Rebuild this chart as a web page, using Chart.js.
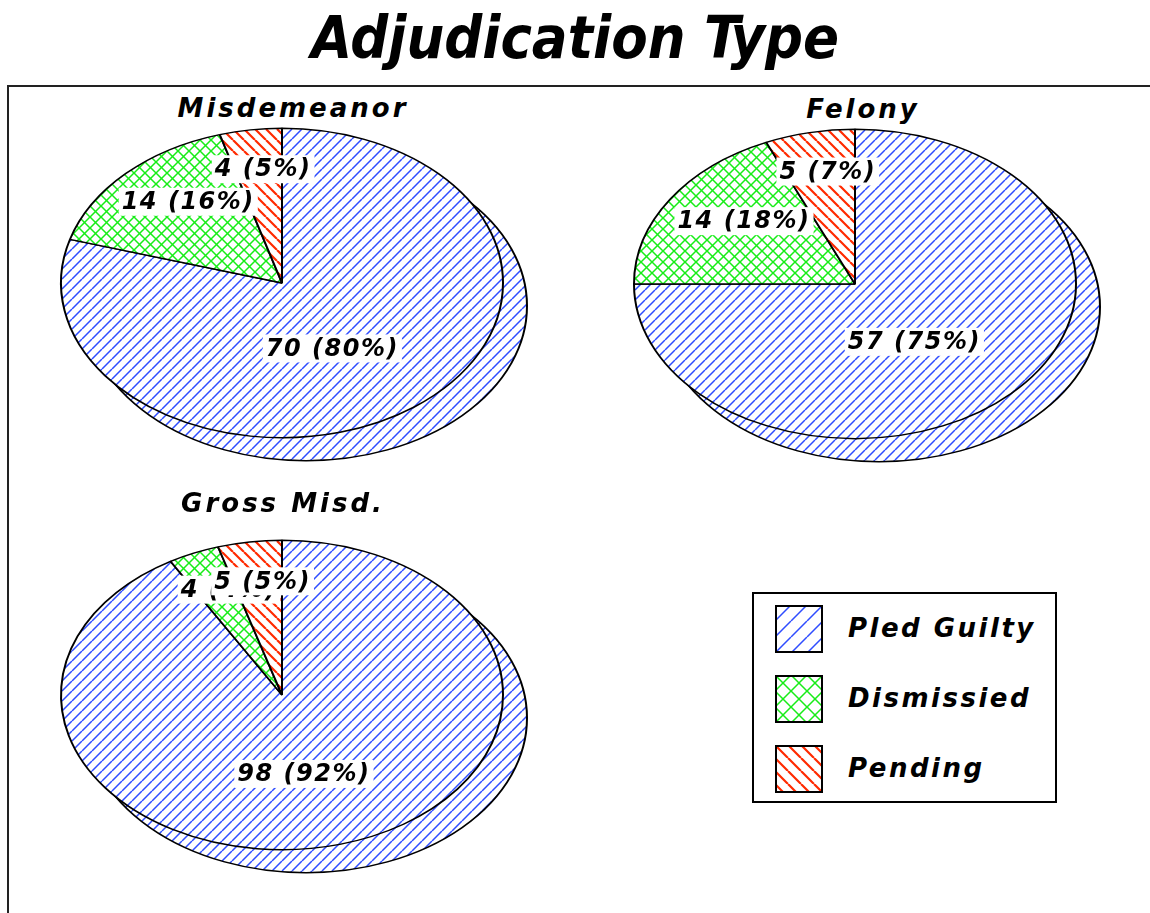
<!DOCTYPE html>
<html>
<head>
<meta charset="utf-8">
<title>Adjudication Type</title>
<script src="https://cdn.jsdelivr.net/npm/chart.js@4.4.0/dist/chart.umd.min.js"></script>
<style>
  body { margin: 0; background: #fff; width: 1150px; height: 913px; overflow: hidden; position: relative; }
  #title {
    position: absolute; left: 0; top: 8px; width: 1150px; text-align: center;
    font: italic bold 59px/59px "DejaVu Sans Condensed", "DejaVu Sans", sans-serif;
    font-stretch: condensed; color: #000;
  }
  #frame {
    position: absolute; left: 7px; top: 85px; width: 1160px; height: 900px;
    border-top: 2px solid #222; border-left: 2px solid #222;
  }
  .sub {
    position: absolute; white-space: nowrap; transform: translateX(-50%);
    font: italic bold 26px/26px "DejaVu Sans", sans-serif; letter-spacing: 3px;
  }
  canvas.pie { position: absolute; }
  #legend {
    position: absolute; left: 752px; top: 592px; width: 301px; height: 207px;
    border: 2px solid #000; background: #fff;
  }
  .item { position: absolute; left: 21px; height: 48px; }
  .item canvas { position: absolute; left: 0; top: 0; }
  .item span {
    position: absolute; left: 73px; top: 10px; white-space: nowrap;
    font: italic bold 26px/26px "DejaVu Sans", sans-serif; letter-spacing: 2.5px;
  }
</style>
</head>
<body>
<div id="title">Adjudication Type</div>
<div id="frame"></div>
<div id="legend"></div>
<script>
const categories = ["Pled Guilty", "Dismissied", "Pending"];
const pieTitles = ["Misdemeanor", "Felony", "Gross Misd."];
const misdemeanor = [70, 14, 4];
const felony = [57, 14, 5];
const grossMisd = [98, 4, 5];

const K = 0.7;      // vertical squash of the tilted pies
const R = 221;
const SHADOW = [24, 23];

function makeTile(kind, p) {
  const c = document.createElement("canvas");
  c.width = p; c.height = p;
  const g = c.getContext("2d");
  g.fillStyle = "#fff";
  g.fillRect(0, 0, p, p);
  const slash = (col, w) => {
    g.strokeStyle = col; g.lineWidth = w; g.beginPath();
    for (let o = -p; o <= p; o += p) { g.moveTo(o, p); g.lineTo(o + p, 0); }
    g.stroke();
  };
  const back = (col, w) => {
    g.strokeStyle = col; g.lineWidth = w; g.beginPath();
    for (let o = -p; o <= p; o += p) { g.moveTo(o, 0); g.lineTo(o + p, p); }
    g.stroke();
  };
  if (kind === "blue") slash("#2f4dff", 1.5);
  if (kind === "green") { slash("#18ec18", 1.5); back("#18ec18", 1.5); }
  if (kind === "red") back("#ff2a00", 2.2);
  return c;
}

function pattern(ctx, kind, p, k) {
  const pat = ctx.createPattern(makeTile(kind, p), "repeat");
  if (k) pat.setTransform(new DOMMatrix().scale(1, 1 / k));
  return pat;
}

const squash = {
  id: "squash",
  beforeDraw(chart) {
    const ctx = chart.ctx;
    const cy = (chart.chartArea.top + chart.chartArea.bottom) / 2;
    ctx.save();
    ctx.translate(0, cy);
    ctx.scale(1, K);
    ctx.translate(0, -cy);
  },
  beforeDatasetsDraw(chart) {
    const ctx = chart.ctx;
    const a = chart.getDatasetMeta(0).data[0];
    ctx.save();
    ctx.beginPath();
    ctx.arc(a.x + SHADOW[0], a.y + SHADOW[1] / K, a.outerRadius, 0, Math.PI * 2);
    ctx.fillStyle = chart.data.datasets[0].backgroundColor[0];
    ctx.fill();
    ctx.lineWidth = 2;
    ctx.strokeStyle = "#000";
    ctx.stroke();
    ctx.restore();
  },
  afterDraw(chart) {
    const ctx = chart.ctx;
    ctx.restore();
    const values = chart.data.datasets[0].data;
    const total = values.reduce((s, v) => s + v, 0);
    const arcs = chart.getDatasetMeta(0).data;
    ctx.save();
    ctx.font = 'italic bold 24px "DejaVu Sans"';
    ctx.letterSpacing = "1.5px";
    ctx.textAlign = "center";
    ctx.textBaseline = "middle";
    arcs.forEach((arc, i) => {
      const v = values[i];
      const mid = (arc.startAngle + arc.endAngle) / 2;
      const big = v / total > 0.5;
      const fx = big ? 0.38 : 0.6;
      const fy = big ? 0.37 : 0.52;
      const x = arc.x + fx * R * Math.cos(mid);
      const y = arc.y + fy * R * Math.sin(mid);
      const txt = v + " (" + Math.round(v / total * 100) + "%)";
      const w = ctx.measureText(txt).width;
      ctx.fillStyle = "#fff";
      ctx.fillRect(x - w / 2 - 3, y - 14, w + 6, 28);
      ctx.fillStyle = "#000";
      ctx.fillText(txt, x, y + 1);
    });
    ctx.restore();
  }
};

const pies = [
  { title: pieTitles[0], data: misdemeanor, cx: 282, cy: 283, tx: 293, ty: 95 },
  { title: pieTitles[1], data: felony, cx: 855, cy: 284, tx: 863, ty: 96 },
  { title: pieTitles[2], data: grossMisd, cx: 282, cy: 695, tx: 283, ty: 490 }
];

const CW = 560, CH = 440;
pies.forEach((p) => {
  const t = document.createElement("div");
  t.className = "sub";
  t.textContent = p.title;
  t.style.left = p.tx + "px";
  t.style.top = p.ty + "px";
  document.body.appendChild(t);

  const cv = document.createElement("canvas");
  cv.className = "pie";
  cv.width = CW; cv.height = CH;
  cv.style.width = CW + "px"; cv.style.height = CH + "px";
  cv.style.left = (p.cx - CW / 2) + "px";
  cv.style.top = (p.cy - CH / 2) + "px";
  document.body.appendChild(cv);
  const ctx = cv.getContext("2d");

  new Chart(ctx, {
    type: "pie",
    data: {
      labels: categories,
      datasets: [{
        data: p.data,
        backgroundColor: [pattern(ctx, "blue", 10, K), pattern(ctx, "green", 11, K), pattern(ctx, "red", 11, K)],
        borderColor: "#000",
        borderWidth: 2,
        radius: R,
        clip: false
      }]
    },
    options: {
      responsive: false,
      animation: false,
      events: [],
      radius: R,
      layout: { padding: 0 },
      plugins: { legend: { display: false }, tooltip: { enabled: false } }
    },
    plugins: [squash]
  });
});

// legend
const legend = document.getElementById("legend");
const kinds = [["blue", 16], ["green", 16], ["red", 13]];
categories.forEach((name, i) => {
  const it = document.createElement("div");
  it.className = "item";
  it.style.top = (11 + i * 70) + "px";
  const sw = document.createElement("canvas");
  sw.width = 48; sw.height = 48;
  const g = sw.getContext("2d");
  g.fillStyle = pattern(g, kinds[i][0], kinds[i][1]);
  g.fillRect(0, 0, 48, 48);
  g.strokeStyle = "#000";
  g.lineWidth = 2;
  g.strokeRect(1, 1, 46, 46);
  const lab = document.createElement("span");
  lab.textContent = name;
  it.appendChild(sw);
  it.appendChild(lab);
  legend.appendChild(it);
});
</script>
</body>
</html>
